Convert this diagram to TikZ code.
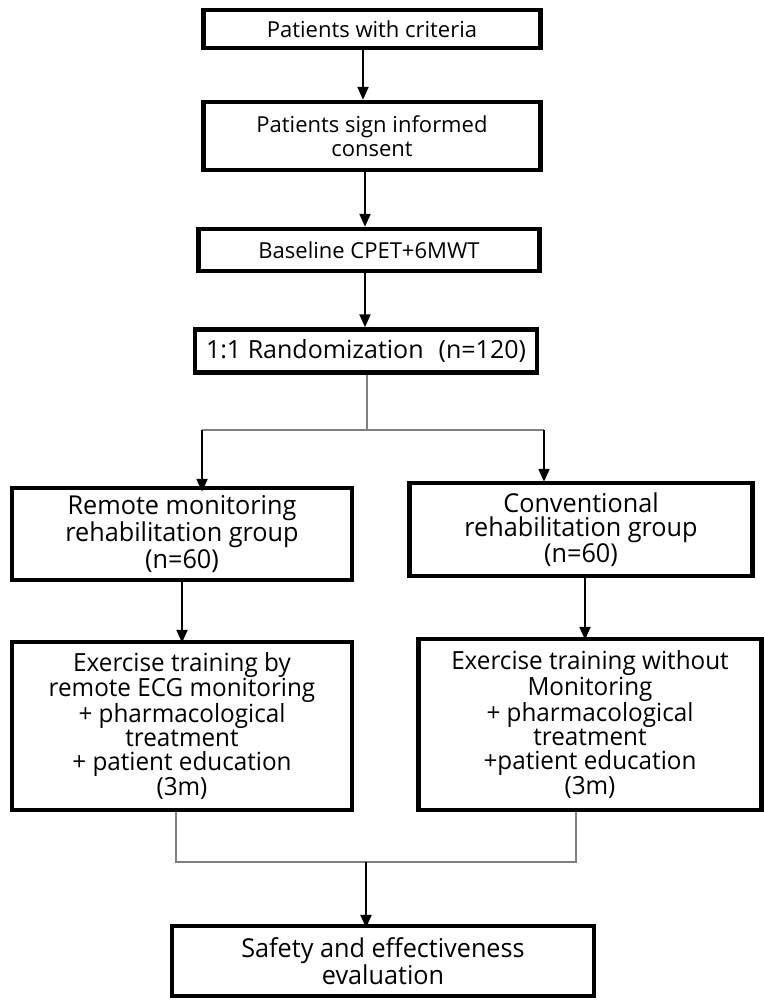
\documentclass[tikz,border=0pt]{standalone}
\usepackage{fontspec}
\setmainfont{Open Sans}
\newfontfamily\tallfont[FakeStretch=0.97]{Open Sans}
\usetikzlibrary{arrows.meta,positioning}

\begin{document}
\begin{tikzpicture}[x=1pt,y=-1pt,
            >={Triangle[length=13pt,width=11pt]},
            box/.style={draw,line width=4.5pt,rectangle,align=center,inner sep=0pt,
              font=\fontsize{22}{24}\selectfont},
            bigbox/.style={box,line width=4.5pt,font=\tallfont\fontsize{25}{24}\selectfont},
            arr/.style={->,line width=2.3pt},
            split/.style={gray,line width=1.3pt},
        ]
        \useasboundingbox (0,0) rectangle (763,1001);
        \node[box,minimum width=337pt,minimum height=38pt] (crit) at (372,29) {Patients with criteria};
        \node[box,minimum width=337pt,minimum height=68pt] (cons) at (372,136) {Patients sign informed\\consent};
        \node[box,minimum width=341pt,minimum height=42pt] (base) at (369,250) {Baseline CPET+6MWT};
        \node[box,minimum width=342pt,minimum height=43pt,font=\fontsize{25}{25}\selectfont] (rand) at (366,351) {1:1 Randomization\hspace{0.6em}(n=120)};
        \node[bigbox,minimum width=340pt,minimum height=92pt,font=\tallfont\fontsize{26}{23.5}\selectfont] (remote) at (182,534) {Remote monitoring\\rehabilitation group\\(n=60)};
        \node[bigbox,minimum width=343pt,minimum height=93pt,font=\tallfont\fontsize{26}{23.5}\selectfont] (conv) at (581,529.5) {Conventional\\rehabilitation group\\(n=60)};
        \node[bigbox,minimum width=340pt,minimum height=168pt] (exrem) at (182,726) {Exercise training by\\remote ECG monitoring\\+ pharmacological\\treatment\\+ patient education\\(3m)};
        \node[bigbox,minimum width=343pt,minimum height=171pt] (exconv) at (590,724.5) {Exercise training without\\Monitoring\\+ pharmacological\\treatment\\+patient education\\(3m)};
        \node[bigbox,minimum width=422pt,minimum height=70pt,font=\tallfont\fontsize{26}{24}\selectfont] (eval) at (383,961) {Safety and effectiveness\\evaluation};

        \draw[arr] ([xshift=-9pt]crit.south) -- ([xshift=-9pt]cons.north);
        \draw[arr] ([xshift=-7pt]cons.south) -- ([xshift=-4pt]base.north);
        \draw[arr] ([xshift=-4pt]base.south) -- ([xshift=-1pt]rand.north);

        % split to the two groups
        \coordinate (sl) at (202,430);
        \coordinate (sr) at (544,430);
        \draw[split] ([xshift=1pt]rand.south) -- ([xshift=1pt]rand.south |- sl);
        \draw[split] (sl) -- (sr);
        \draw[arr] (sl) -- ([yshift=-6pt]sl |- remote.north);
        \draw[arr] (sr) -- ([yshift=-1pt]sr |- conv.north);

        \draw[arr] (remote.south) -- ([yshift=-3pt]exrem.north);
        \draw[arr] ([xshift=4pt]conv.south) -- ([xshift=-5pt,yshift=-3pt]exconv.north);

        % merge
        \coordinate (ml) at (176,862);
        \coordinate (mr) at (576,862);
        \draw[split] (ml |- exrem.south) -- (ml) -- (mr) -- (mr |- exconv.south);
        \draw[arr] (366,862) -- ([xshift=-17pt,yshift=-4pt]eval.north);
    \end{tikzpicture}
\end{document}
